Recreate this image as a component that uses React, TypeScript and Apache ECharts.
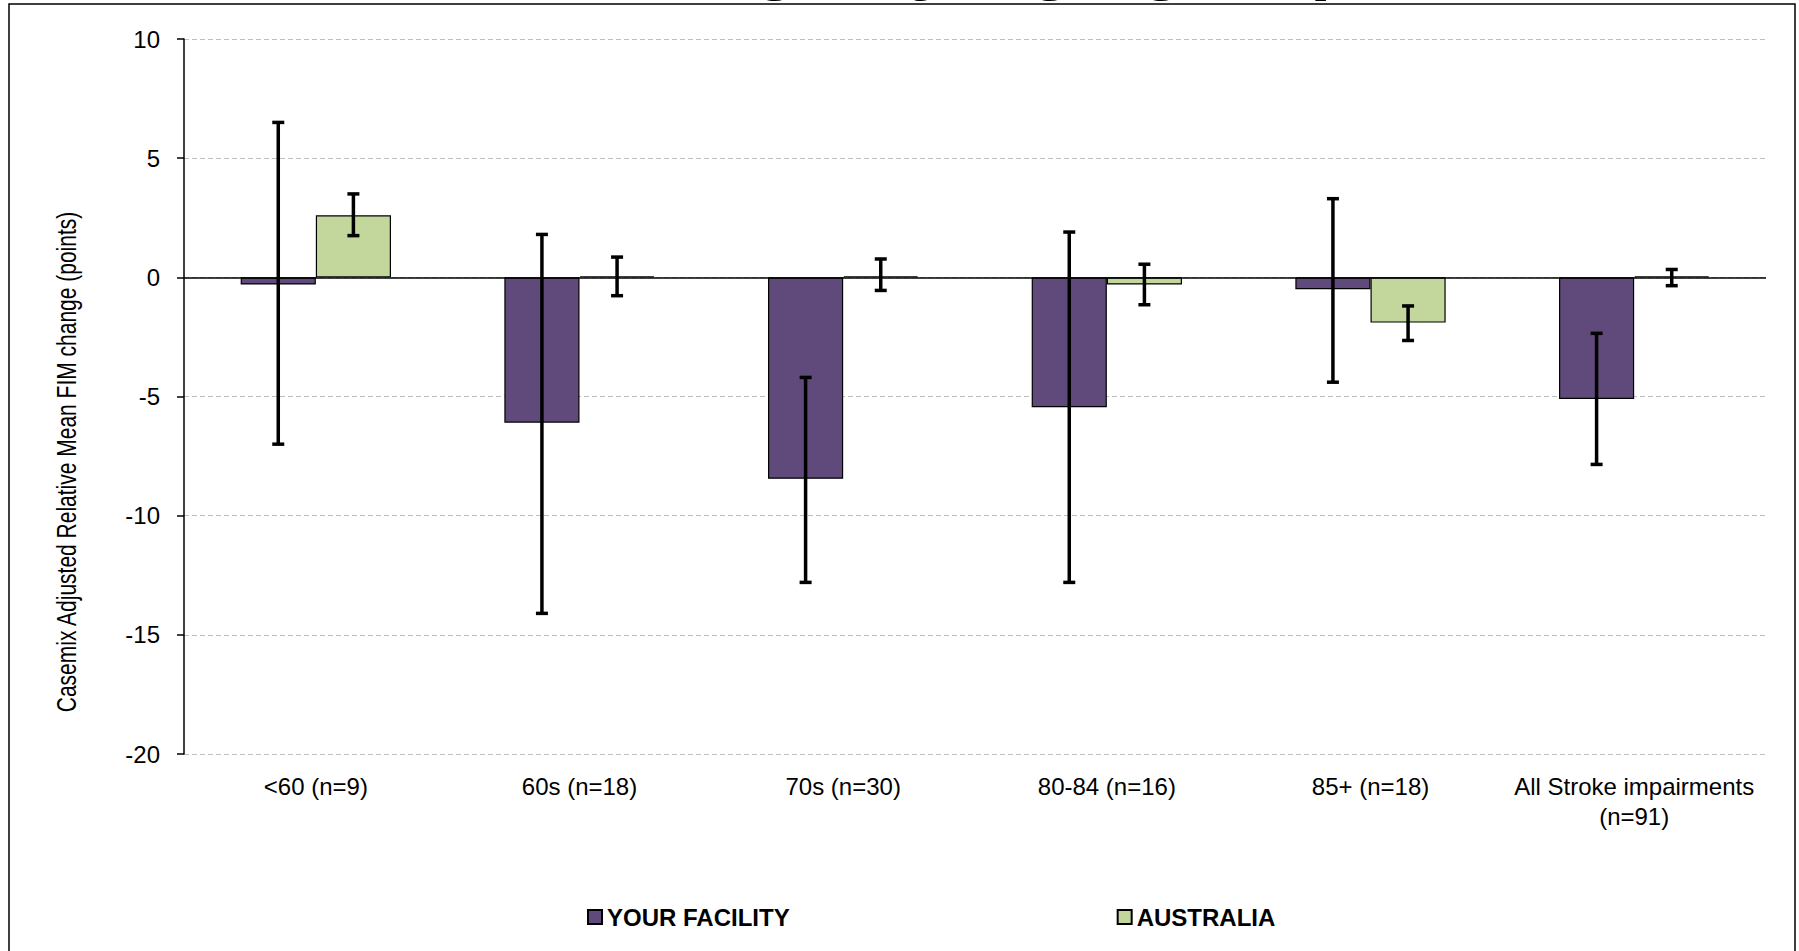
import React, { useEffect, useRef } from "react";
import * as echarts from "echarts";

const categories = [
  "<60 (n=9)",
  "60s (n=18)",
  "70s (n=30)",
  "80-84 (n=16)",
  "85+ (n=18)",
  "All Stroke impairments\n(n=91)",
];
const seriesNames = ["YOUR FACILITY", "AUSTRALIA"];
const facilityMean = [-0.3, -6.1, -8.45, -5.45, -0.5, -5.1];
const facilityLow = [-7.0, -14.1, -12.8, -12.8, -4.4, -7.85];
const facilityHigh = [6.5, 1.8, -4.2, 1.9, 3.3, -2.35];
const australiaMean = [2.6, 0.05, 0.05, -0.3, -1.9, 0.05];
const australiaLow = [1.75, -0.77, -0.55, -1.15, -2.65, -0.35];
const australiaHigh = [3.5, 0.85, 0.77, 0.55, -1.2, 0.33];
const yMin = -20;
const yMax = 10;
const yInterval = 5;
const titleText = "FIM Change by Age group";
const yAxisTitle = "Casemix Adjusted Relative Mean FIM change (points)";

const FONT = '"Liberation Sans", Arial, sans-serif';
const BAR_CAT_GAP = 0.43;

function errorSeries(name: string, low: number[], high: number[], side: number) {
  return {
    type: "custom",
    name,
    data: low.map((l, i) => [i, l, high[i]]),
    encode: { x: 0, y: [1, 2] },
    z: 10,
    silent: true,
    renderItem: (params: any, api: any) => {
      const i = api.value(0);
      const pLo = api.coord([i, api.value(1)]);
      const pHi = api.coord([i, api.value(2)]);
      const band = api.size([1, 0])[0];
      const bw = (band * (1 - BAR_CAT_GAP)) / 2;
      const cx = pLo[0] + (side * bw) / 2;
      const cap = 6;
      const style = { stroke: "#000", lineWidth: 3.5, fill: "none" };
      return {
        type: "group",
        children: [
          { type: "line", shape: { x1: cx, y1: pLo[1], x2: cx, y2: pHi[1] }, style },
          { type: "line", shape: { x1: cx - cap, y1: pLo[1], x2: cx + cap, y2: pLo[1] }, style },
          { type: "line", shape: { x1: cx - cap, y1: pHi[1], x2: cx + cap, y2: pHi[1] }, style },
        ],
      };
    },
  };
}

export default function App() {
  const ref = useRef<HTMLDivElement>(null);
  useEffect(() => {
    if (!ref.current) return;
    const chart = echarts.init(ref.current, null, { renderer: "svg" });
    chart.setOption({
      animation: false,
      backgroundColor: "#fff",
      textStyle: { fontFamily: FONT },
      grid: { left: 184, right: 33, top: 39, bottom: 197, containLabel: false },
      legend: {
        data: seriesNames,
        left: 582,
        top: 900,
        itemWidth: 14,
        itemHeight: 14,
        itemGap: 327,
        icon: "rect",
        textStyle: { fontSize: 24, fontWeight: "bold", color: "#000", fontFamily: FONT },
      },
      xAxis: {
        type: "category",
        data: categories,
        axisLine: { show: false, onZero: false },
        axisTick: { show: false },
        splitLine: { show: false },
        axisLabel: {
          interval: 0,
          fontSize: 24,
          lineHeight: 30,
          color: "#000",
          margin: 17,
          fontFamily: FONT,
        },
      },
      yAxis: {
        type: "value",
        min: yMin,
        max: yMax,
        interval: yInterval,
        axisLine: { show: true, lineStyle: { color: "#000", width: 1.5 } },
        axisTick: { show: true, length: 7, lineStyle: { color: "#000", width: 1.5 } },
        axisLabel: { fontSize: 24, color: "#000", margin: 24, fontFamily: FONT },
        splitLine: { show: true, lineStyle: { color: "#BFBFBF", width: 1, type: [5, 3] } },
      },
      series: [
        {
          type: "bar",
          name: seriesNames[0],
          data: facilityMean,
          barGap: "0%",
          barCategoryGap: "43%",
          itemStyle: { color: "#604A7B", borderColor: "#000", borderWidth: 1.2 },
          markLine: {
            silent: true,
            symbol: ["none", "none"],
            label: { show: false },
            lineStyle: { color: "#000", type: "solid", width: 1.5 },
            data: [{ yAxis: 0 }],
          },
        },
        {
          type: "bar",
          name: seriesNames[1],
          data: australiaMean,
          barGap: "0%",
          barCategoryGap: "43%",
          itemStyle: { color: "#C3D69B", borderColor: "#000", borderWidth: 1.2 },
        },
        errorSeries("facility-error", facilityLow, facilityHigh, -1),
        errorSeries("australia-error", australiaLow, australiaHigh, 1),
      ],
      graphic: [
        {
          type: "rect",
          silent: true,
          z: -1,
          shape: { x: 9, y: 4, width: 1786, height: 1000 },
          style: { fill: "none", stroke: "#000", lineWidth: 1.5 },
        },
        {
          type: "text",
          silent: true,
          x: 406,
          y: -42,
          style: {
            text: titleText,
            font: 'bold 77px "Liberation Sans", Arial, sans-serif',
            textAlign: "left",
            verticalAlign: "middle",
            fill: "#000",
          },
        },
        {
          type: "text",
          silent: true,
          x: 66,
          y: 462,
          rotation: Math.PI / 2,
          scaleY: 1.3,
          style: {
            text: yAxisTitle,
            font: '21px "Liberation Sans", Arial, sans-serif',
            textAlign: "center",
            verticalAlign: "middle",
            fill: "#000",
          },
        },
      ],
    });
    return () => chart.dispose();
  }, []);
  return (
    <div
      ref={ref}
      style={{ position: "fixed", left: 0, top: 0, width: 1799, height: 951, background: "#fff" }}
    />
  );
}
